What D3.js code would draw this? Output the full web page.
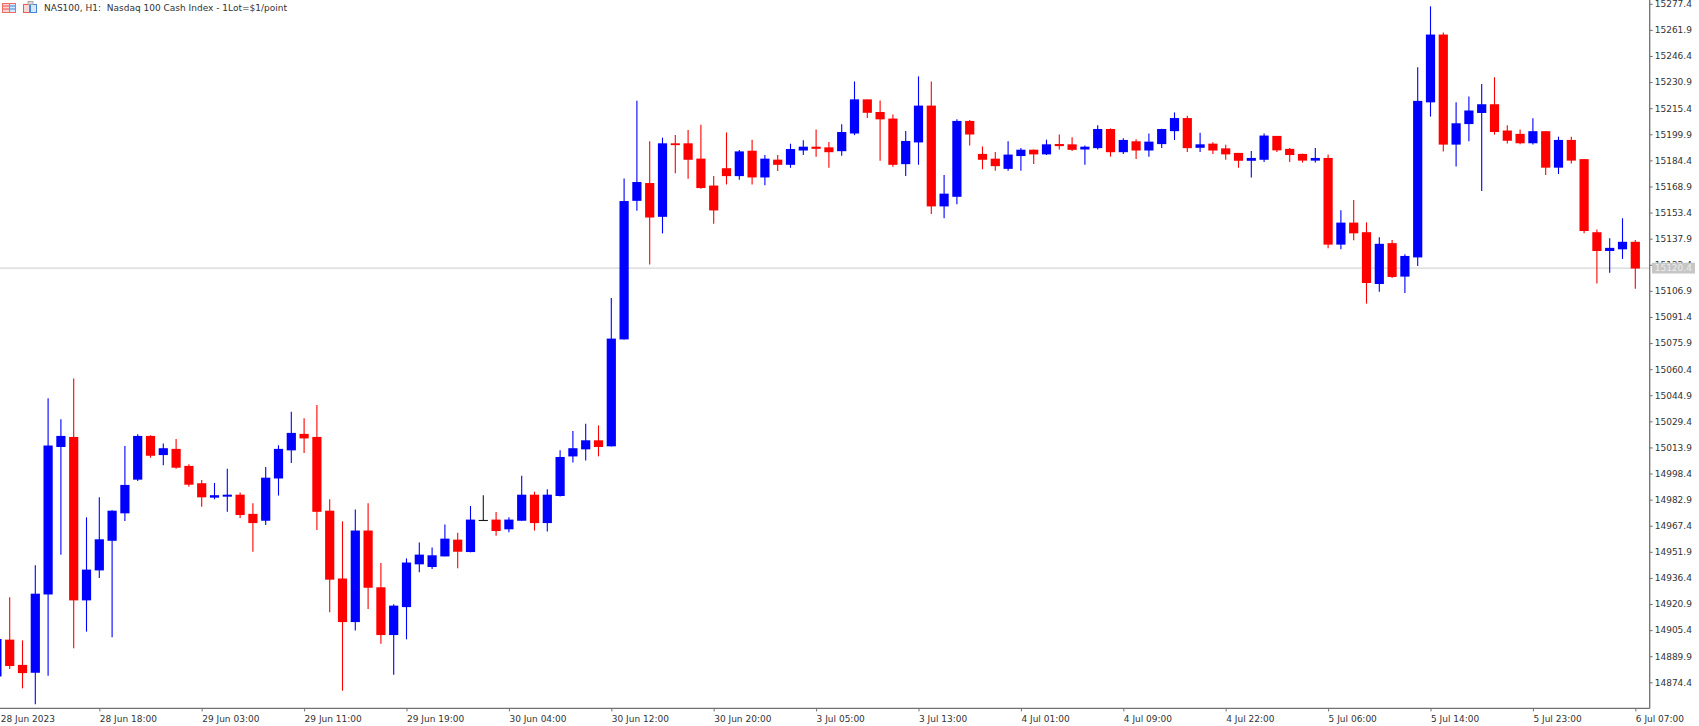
<!DOCTYPE html>
<html>
<head>
<meta charset="utf-8">
<script src="https://cdnjs.cloudflare.com/ajax/libs/d3/7.8.5/d3.min.js"></script>
<style>
  html, body { margin: 0; padding: 0; background: #fff; overflow: hidden; }
  svg { display: block; }
  text { font-family: "DejaVu Sans", sans-serif; font-size: 9px; fill: #333; }
</style>
</head>
<body>
<svg id="chart" width="1699" height="726"></svg>
<script>
const title = "NAS100, H1:\u00a0\u00a0Nasdaq 100 Cash Index - 1Lot=$1/point";
const lastPrice = 15120.4;

// Hourly candles, oldest first, ten per row; the first one sits mostly off the left edge.
const opens = [
  14878.1,14899.5,14884.5,14880.3,14926.8,15014.4,15019.9,14923.3,14941.1,14958.7,
  14975.0,14995.0,15020.5,15009.6,15012.8,15002.7,14992.4,14984.3,14984.9,14985.6,
  14974.2,14970.6,14995.7,15012.4,15021.7,15019.9,14976.1,14935.8,14910.4,14964.3,
  14930.6,14902.7,14919.3,14944.7,14943.1,14949.4,14958.9,14952.0,14970.6,14970.8,
  14965.5,14970.6,14985.6,14969.2,14985.3,15008.8,15013.0,15017.9,15014.8,15078.3,
  15160.6,15170.7,15151.1,15194.3,15194.3,15185.2,15169.2,15179.5,15175.3,15189.9,
  15174.5,15184.6,15182.0,15190.5,15192.3,15191.9,15190.1,15200.6,15220.4,15212.9,
  15209.0,15182.4,15195.3,15216.7,15157.3,15163.0,15207.6,15188.0,15185.2,15179.6,
  15187.2,15190.5,15188.2,15193.9,15193.7,15191.1,15191.9,15202.8,15189.5,15195.5,
  15190.5,15194.3,15202.0,15209.3,15192.1,15194.1,15191.3,15188.6,15184.4,15185.0,
  15198.7,15191.0,15188.0,15184.5,15185.6,15134.6,15147.2,15141.5,15111.2,15135.0,
  15115.6,15127.0,15219.1,15258.9,15194.0,15206.2,15212.8,15217.5,15201.9,15199.9,
  15194.8,15201.5,15180.3,15196.3,15184.9,15141.5,15130.8,15131.8,15135.8];
const closes = [
  14899.9,14884.3,14880.1,14926.8,15014.8,15020.5,14923.3,14941.1,14959.1,14976.1,
  14991.4,15020.5,15009.2,15013.2,15002.1,14992.0,14984.5,14985.3,14985.6,14974.0,
  14969.2,14995.7,15012.8,15022.3,15019.5,14975.9,14935.6,14910.4,14964.3,14930.8,
  14902.7,14919.7,14945.3,14950.0,14949.6,14959.5,14952.2,14970.8,14970.6,14964.5,
  14970.8,14985.6,14969.2,14985.6,15008.0,15013.2,15017.9,15014.4,15078.3,15160.0,
  15171.3,15150.7,15194.3,15193.7,15185.0,15168.2,15154.9,15175.3,15189.5,15174.5,
  15185.2,15182.0,15190.9,15192.3,15191.5,15189.5,15201.0,15220.4,15212.9,15209.0,
  15182.0,15195.7,15216.7,15157.3,15164.4,15207.6,15200.0,15185.0,15181.2,15187.6,
  15190.5,15188.2,15193.7,15193.1,15190.9,15192.3,15202.8,15189.5,15196.3,15190.5,
  15195.3,15202.8,15209.3,15191.9,15193.7,15190.5,15188.2,15184.4,15185.6,15198.9,
  15190.6,15187.8,15184.5,15185.6,15134.6,15147.2,15141.3,15111.8,15134.6,15115.4,
  15127.4,15219.5,15258.9,15194.0,15206.2,15213.8,15217.5,15201.5,15196.3,15194.8,
  15201.5,15180.3,15196.3,15184.5,15142.7,15130.8,15132.2,15135.8,15120.4];
const highs = [
  14901.0,14924.9,14899.3,14943.9,15043.1,15030.6,15054.9,14972.4,14984.3,14976.6,
  15014.8,15021.7,15021.1,15016.3,15018.9,15003.9,14994.6,14992.8,15001.3,14987.2,
  14980.7,15002.3,15015.2,15035.1,15031.2,15039.1,14983.1,14970.0,14977.1,14980.7,
  14945.3,14920.7,14948.0,14957.5,14954.4,14968.2,14963.3,14979.1,14985.5,14975.6,
  14972.4,14997.1,14987.6,14989.0,15012.2,15023.7,15028.0,15027.0,15102.7,15173.7,
  15219.8,15195.7,15197.9,15199.4,15202.4,15205.6,15175.1,15201.0,15190.5,15196.7,
  15187.6,15187.6,15194.3,15196.3,15202.8,15195.3,15205.8,15231.3,15220.6,15220.0,
  15211.7,15201.8,15234.3,15231.3,15175.7,15208.8,15208.4,15192.7,15189.4,15195.7,
  15191.7,15190.9,15196.7,15199.8,15198.1,15193.3,15205.2,15203.4,15197.5,15196.9,
  15200.4,15203.2,15212.9,15210.9,15200.8,15195.1,15193.7,15188.8,15189.9,15200.4,
  15198.9,15191.8,15188.4,15191.8,15187.9,15154.8,15160.9,15147.6,15138.7,15137.1,
  15128.6,15239.7,15275.9,15260.3,15218.9,15222.3,15229.8,15233.8,15205.3,15202.7,
  15209.4,15201.7,15198.5,15198.5,15185.1,15143.3,15138.1,15150.0,15137.1];
const lows = [
  14877.0,14882.3,14870.8,14861.3,14878.3,14950.2,14894.6,14904.5,14936.3,14901.1,
  14970.2,14994.0,15007.8,15003.3,15001.3,14990.6,14978.7,14983.1,14975.7,14972.0,
  14952.0,14967.8,14985.3,15004.7,15010.6,14964.9,14916.0,14869.4,14905.1,14917.9,
  14897.3,14878.9,14899.9,14939.7,14941.7,14949.2,14942.1,14951.6,14970.4,14961.5,
  14963.5,14970.4,14964.5,14963.9,14984.7,15004.9,15006.2,15008.6,15014.4,15078.0,
  15154.5,15122.6,15141.0,15176.7,15173.5,15167.6,15146.8,15170.1,15172.9,15170.1,
  15169.7,15178.1,15180.0,15187.6,15186.6,15180.0,15187.2,15199.4,15209.5,15184.2,
  15180.6,15175.1,15181.8,15152.5,15150.1,15158.3,15193.3,15179.1,15178.3,15178.3,
  15178.3,15182.2,15187.6,15190.9,15189.9,15181.8,15190.9,15186.6,15188.2,15185.2,
  15186.6,15191.7,15196.5,15189.4,15189.4,15188.2,15184.8,15180.0,15174.3,15183.4,
  15189.4,15183.5,15183.1,15183.1,15132.2,15131.6,15136.9,15099.3,15106.4,15114.6,
  15105.7,15121.7,15210.4,15189.6,15180.7,15195.7,15166.2,15199.7,15194.4,15194.0,
  15193.8,15175.7,15176.3,15182.5,15141.1,15111.2,15117.7,15125.9,15108.2];

const priceTicks = [15277.4,15261.9,15246.4,15230.9,15215.4,15199.9,15184.4,15168.9,15153.4,15137.9,15122.4,15106.9,15091.4,15075.9,15060.4,15044.9,15029.4,15013.9,14998.4,14982.9,14967.4,14951.9,14936.4,14920.9,14905.4,14889.9,14874.4];
const timeTickIndex = [0,8,16,24,32,40,48,56,64,72,80,88,96,104,112,120,128];
const timeTickLabels = ["28 Jun 2023","28 Jun 18:00","29 Jun 03:00","29 Jun 11:00","29 Jun 19:00","30 Jun 04:00","30 Jun 12:00","30 Jun 20:00","3 Jul 05:00","3 Jul 13:00","4 Jul 01:00","4 Jul 09:00","4 Jul 22:00","5 Jul 06:00","5 Jul 14:00","5 Jul 23:00","6 Jul 07:00"];

const UP = "#0000ff", DOWN = "#ff0000", FLAT = "#1a1a1a";
const plotRight = 1649.7, plotBottom = 708.4;

const svg = d3.select("#chart");
const x = d3.scaleLinear().domain([0, 128]).range([-3.1, 1635.3]);
const y = d3.scaleLinear().domain([14874.4, 15277.4]).range([682.3, 3.8]);

const candles = opens.map((open, i) => ({ i, open, close: closes[i], high: highs[i], low: lows[i] }));
const colorOf = d => d.close > d.open ? UP : d.close < d.open ? DOWN : FLAT;

// Current price line sits underneath the candles.
svg.append("line")
  .attr("x1", 0).attr("x2", plotRight)
  .attr("y1", y(lastPrice)).attr("y2", y(lastPrice))
  .attr("stroke", "#d6d6d6").attr("stroke-width", 1.2);

const group = svg.append("g").selectAll("g").data(candles).join("g");

group.append("line")
  .attr("x1", d => x(d.i)).attr("x2", d => x(d.i))
  .attr("y1", d => y(d.high)).attr("y2", d => y(d.low))
  .attr("stroke", colorOf).attr("stroke-width", 1.1);

group.append("rect")
  .attr("x", d => x(d.i) - 4.6).attr("width", 9.2)
  .attr("y", d => y(Math.max(d.open, d.close)) - 0.4)
  .attr("height", d => Math.max(1.1, Math.abs(y(d.open) - y(d.close)) + 0.8))
  .attr("fill", colorOf);

// Price axis on the right.
const yAxis = svg.append("g")
  .attr("transform", `translate(${plotRight},0)`)
  .call(d3.axisRight(y).tickValues(priceTicks).tickSize(3).tickPadding(2).tickFormat(d3.format(".1f")));
yAxis.select(".domain").attr("d", `M0,0V${plotBottom}`).attr("stroke", "#707070").attr("stroke-width", 1.3);
yAxis.selectAll(".tick line").attr("stroke", "#707070");

// Time axis along the bottom; each label starts at its tick.
const xAxis = svg.append("g")
  .attr("transform", `translate(0,${plotBottom})`)
  .call(d3.axisBottom(x).tickValues(timeTickIndex).tickSize(3).tickPadding(4)
    .tickFormat((d, i) => timeTickLabels[i]));
xAxis.select(".domain").attr("d", `M0,0H${plotRight}`).attr("stroke", "#707070").attr("stroke-width", 1.3);
xAxis.selectAll(".tick line").attr("stroke", "#707070");
xAxis.selectAll("text").attr("text-anchor", "start");
// The opening tick lies just past the edge, so its label is nudged back inside.
xAxis.selectAll("text").filter(d => d === 0).attr("dx", 3.4);

// Last price tag covers the nearest axis label.
svg.append("rect")
  .attr("x", 1652).attr("y", y(lastPrice) - 5.4).attr("width", 43).attr("height", 10.8)
  .attr("fill", "#c6c6c6");
svg.append("text")
  .attr("x", 1654.7).attr("y", y(lastPrice)).attr("dy", "0.34em")
  .style("fill", "#ececec").text(d3.format(".1f")(lastPrice));

// Symbol title with its two toolbar glyphs.
svg.append("text").attr("x", 44).attr("y", 11).text(title);

const glyphs = svg.append("g");
glyphs.append("rect").attr("x", 2.5).attr("y", 3.5).attr("width", 13).attr("height", 9)
  .attr("fill", "#fbd4d4").attr("stroke", "#f06a6a");
[6, 9].forEach(v => glyphs.append("line").attr("x1", 3).attr("x2", 9).attr("y1", v).attr("y2", v).attr("stroke", "#f05050"));
glyphs.append("rect").attr("x", 10).attr("y", 4).attr("width", 5).attr("height", 8).attr("fill", "#d8e8fa");
[6, 9].forEach(v => glyphs.append("line").attr("x1", 10).attr("x2", 15).attr("y1", v).attr("y2", v).attr("stroke", "#3f86dc"));
glyphs.append("line").attr("x1", 9.5).attr("x2", 9.5).attr("y1", 3.5).attr("y2", 12.5).attr("stroke", "#f06a6a");
glyphs.append("rect").attr("x", 23.5).attr("y", 4.5).attr("width", 6).attr("height", 8)
  .attr("fill", "#fbd8d8").attr("stroke", "#f05a5a");
glyphs.append("rect").attr("x", 30.5).attr("y", 4.5).attr("width", 6).attr("height", 8)
  .attr("fill", "#d8e8fa").attr("stroke", "#3f86dc");
glyphs.append("rect").attr("x", 28).attr("y", 1.5).attr("width", 5).attr("height", 3)
  .attr("fill", "#d8d8d8").attr("stroke", "#a0a0a0").attr("stroke-width", 0.8);
</script>
</body>
</html>
